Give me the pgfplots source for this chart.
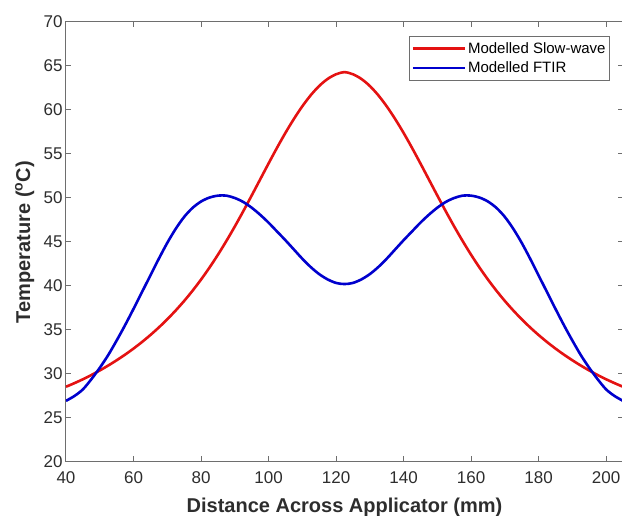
\documentclass[border=0pt]{standalone}
\usepackage{fontspec}
\setmainfont{Liberation Sans}
\usepackage{pgfplots}
\pgfplotsset{compat=1.18}
\definecolor{cred}{RGB}{228,18,18}
\definecolor{cblue}{RGB}{0,0,205}
\definecolor{axgray}{RGB}{110,110,110}
\definecolor{tgray}{RGB}{45,45,45}
\begin{document}
\begin{tikzpicture}
\path[use as bounding box] (-66pt,-54pt) rectangle (556pt,462pt);
\begin{axis}[
 scale only axis, width=557pt, height=440pt,
 xmin=40, xmax=205, ymin=20, ymax=70,
 xtick={40,60,...,200}, ytick={20,25,...,70},
 tick align=inside, major tick length=5.5pt,
 axis line style={axgray, line width=1pt},
 every tick/.style={axgray, line width=1pt},
 tick label style={font=\fontsize{17}{20}\selectfont, text=tgray},
 /pgf/number format/assume math mode=true,
 xticklabel style={yshift=-6.5pt},
 xlabel={\textbf{Distance Across Applicator (mm)}},
 ylabel={\textbf{Temperature (\textsuperscript{o}C)}},
 xlabel style={font=\fontsize{20}{24}\selectfont, text=tgray, at={(axis description cs:0.5,-0.1159)}, anchor=base},
 ylabel style={font=\fontsize{20}{24}\selectfont, text=tgray, at={(axis description cs:-0.0740,0.5)}, anchor=center},
 legend style={at={(0.9767,0.968)}, anchor=north east, draw=axgray, line width=0.8pt, fill=white, font=\fontsize{15}{18}\selectfont, inner xsep=2pt, inner ysep=4pt, row sep=3pt, nodes={inner sep=2pt, anchor=west, text=black}},
 legend cell align=left,
 legend image code/.code={\draw[#1] (0pt,0pt) -- (52pt,0pt);},
]
\addplot[cred, line width=2.6pt, smooth, tension=0.5] table {
x y
40 28.55
42.5 28.96
45 29.40
47.5 29.88
50 30.40
52.5 30.96
55 31.56
57.5 32.20
60 32.89
62.5 33.63
65 34.43
67.5 35.29
70 36.22
72.5 37.22
75 38.30
77.5 39.47
80 40.73
82.5 42.09
85 43.55
87.5 45.11
90 46.76
92.5 48.49
95 50.28
97.5 52.10
100 53.92
102.5 55.70
105 57.40
107.5 58.98
110 60.42
112.5 61.68
115 62.73
117.5 63.53
120 64.06
122.5 64.30
125 64.06
127.5 63.53
130 62.73
132.5 61.68
135 60.42
137.5 58.98
140 57.40
142.5 55.70
145 53.92
147.5 52.10
150 50.28
152.5 48.49
155 46.76
157.5 45.11
160 43.55
162.5 42.09
165 40.73
167.5 39.47
170 38.30
172.5 37.22
175 36.22
177.5 35.29
180 34.43
182.5 33.63
185 32.89
187.5 32.20
190 31.56
192.5 30.96
195 30.40
197.5 29.88
200 29.40
202.5 28.96
205 28.55
};
\addlegendentry{Modelled Slow-wave}
\addplot[cblue, line width=2.6pt, smooth, tension=0.5] table {
x y
40 26.95
42.5 27.50
45 28.25
47.5 29.40
50 30.70
52.5 32.15
55 33.80
57.5 35.55
60 37.40
62.5 39.30
65 41.20
67.5 43.10
70 44.90
72.5 46.50
75 47.85
77.5 48.88
80 49.60
82.5 50.05
85 50.27
87.5 50.27
90 50.00
92.5 49.55
95 48.90
97.5 48.10
100 47.20
102.5 46.20
105 45.20
107.5 44.15
110 43.10
112.5 42.15
115 41.35
117.5 40.75
120 40.35
122.5 40.22
125 40.35
127.5 40.75
130 41.35
132.5 42.15
135 43.10
137.5 44.15
140 45.20
142.5 46.20
145 47.20
147.5 48.10
150 48.90
152.5 49.55
155 50.00
157.5 50.27
160 50.27
162.5 50.05
165 49.60
167.5 48.88
170 47.85
172.5 46.50
175 44.90
177.5 43.10
180 41.20
182.5 39.30
185 37.40
187.5 35.55
190 33.80
192.5 32.15
195 30.70
197.5 29.40
200 28.25
202.5 27.50
205 26.95
};
\addlegendentry{Modelled FTIR}
\end{axis}
\end{tikzpicture}
\end{document}
